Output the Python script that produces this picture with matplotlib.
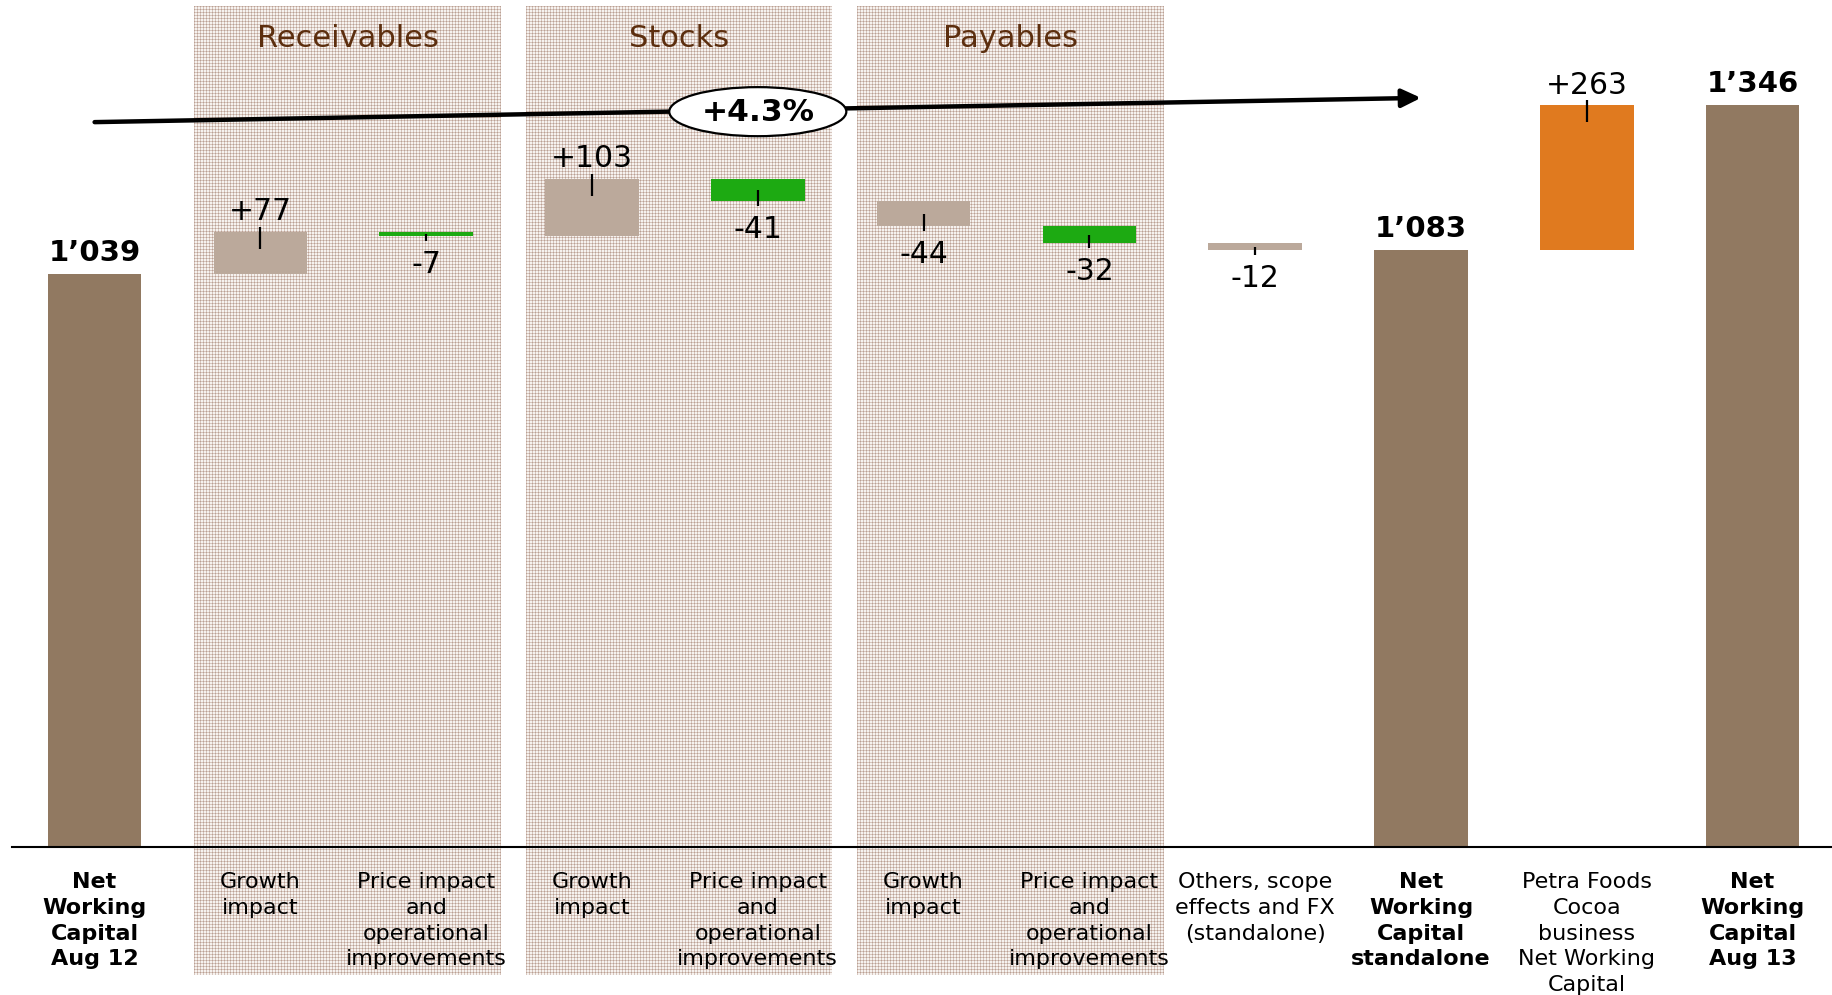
import matplotlib
matplotlib.use('Agg')
import matplotlib.pyplot as plt
import numpy as np
from matplotlib.patches import Ellipse

# ---------------- data ----------------
categories = ["Net\nWorking\nCapital\nAug 12",
              "Growth\nimpact",
              "Price impact\nand\noperational\nimprovements",
              "Growth\nimpact",
              "Price impact\nand\noperational\nimprovements",
              "Growth\nimpact",
              "Price impact\nand\noperational\nimprovements",
              "Others, scope\neffects and FX\n(standalone)",
              "Net\nWorking\nCapital\nstandalone",
              "Petra Foods\nCocoa\nbusiness\nNet Working\nCapital",
              "Net\nWorking\nCapital\nAug 13"]
values = [1039, 77, -7, 103, -41, -44, -32, -12, 1083, 263, 1346]
kinds = ['total', 'growth', 'price', 'growth', 'price', 'growth', 'price',
         'other', 'total', 'acq', 'total']
value_labels = ["1\u2019039", "+77", "-7", "+103", "-41", "-44", "-32", "-12",
                "1\u2019083", "+263", "1\u2019346"]
groups = ["Receivables", "Stocks", "Payables"]
group_first = [1, 3, 5]
growth_text = "+4.3%"

# ---------------- style ----------------
colors = {'total': '#917961', 'growth': '#bba99b', 'price': '#1daa12',
          'other': '#bba99b', 'acq': '#e07a1f'}
title_color = '#5c2e0e'
plt.rcParams['font.family'] = ['DejaVu Sans']

W, H, DPI = 18.32, 9.951, 100
fig = plt.figure(figsize=(W, H), dpi=DPI)
ax = fig.add_axes([0, 0, 1, 1])
ax.set_xlim(-0.5706, 10.479)
ax.set_ylim(-269, 1536.8)
ax.axis('off')

bar_w = 0.564

# ---------------- group bands (fine grid texture) ----------------
band_bottom, band_top = -233, 1526
inv = ax.transData.inverted()
for g, i0 in enumerate(group_first):
    x0, x1 = i0 - 0.40, i0 + 1 + 0.45
    (p0x, p0y), (p1x, p1y) = ax.transData.transform([(x0, band_bottom), (x1, band_top)])
    p0x, p0y, p1x, p1y = [float(round(v)) for v in (p0x, p0y, p1x, p1y)]
    wpx, hpx = int(p1x - p0x), int(p1y - p0y)
    (ex0, ey0), (ex1, ey1) = inv.transform([(p0x, p0y), (p1x, p1y)])
    yy, xx = np.mgrid[0:hpx, 0:wpx]
    tex = np.ones((hpx, wpx, 3)) * np.array([0.965, 0.95, 0.94])
    vline = (xx % 3 == 0)
    hline = (yy % 3 == 0)
    tex[vline | hline] = [0.84, 0.775, 0.745]
    tex[vline & hline] = [0.73, 0.63, 0.58]
    ax.imshow(tex, extent=(ex0, ex1, ey0, ey1), interpolation='nearest',
              aspect='auto', zorder=0)
    ax.text((x0 + x1) / 2, 1451, groups[g], ha='center', va='baseline',
            fontsize=22, color=title_color, zorder=3)

# ---------------- bars ----------------
cum = 0
for i, (v, k) in enumerate(zip(values, kinds)):
    if k == 'total':
        bottom, top = 0, v
        cum = v
        ax.bar(i, top - bottom, bottom=bottom, width=bar_w, color=colors[k], zorder=2)
        ax.text(i, top + 24, value_labels[i], ha='center', va='baseline',
                fontsize=21, fontweight='bold', zorder=4)
    else:
        new = cum + v
        bottom, top = min(cum, new), max(cum, new)
        ax.bar(i, top - bottom, bottom=bottom, width=bar_w, color=colors[k], zorder=2)
        if v > 0:
            ax.plot([i, i], [top + 9, top - 31], color='black', lw=1.6, zorder=4,
                    solid_capstyle='butt')
            ax.text(i, top + 21, value_labels[i], ha='center', va='baseline',
                    fontsize=21.5, zorder=4)
        else:
            ax.plot([i, i], [(top + bottom) / 2, bottom - 9], color='black', lw=1.6,
                    zorder=4, solid_capstyle='butt')
            ax.text(i, bottom - 67, value_labels[i], ha='center', va='baseline',
                    fontsize=21.5, zorder=4)
        cum = new

# ---------------- baseline ----------------
ax.plot([-0.50, 10.479], [0, 0], color='black', lw=1.5, zorder=3)

# ---------------- category labels ----------------
for i, lab in enumerate(categories):
    bold = kinds[i] == 'total'
    for k, line in enumerate(lab.split('\n')):
        ax.text(i, -75 - k * 46.6, line, ha='center', va='baseline',
                fontsize=16, fontweight='bold' if bold else 'normal', zorder=4)

# ---------------- growth arrow ----------------
ax.annotate('', xy=(8.0, 1359), xytext=(0, 1315),
            arrowprops=dict(arrowstyle='-|>,head_length=1.15,head_width=0.55',
                            lw=3.2, color='black', shrinkA=0, shrinkB=0),
            zorder=5)
ell = Ellipse((4.0, 1334), 1.068, 89, facecolor='white', edgecolor='black',
              lw=1.6, zorder=6)
ax.add_patch(ell)
ax.text(4.0, 1333, growth_text, ha='center', va='center', fontsize=22.5,
        fontweight='bold', zorder=7)

fig.savefig('out.png', dpi=DPI)
